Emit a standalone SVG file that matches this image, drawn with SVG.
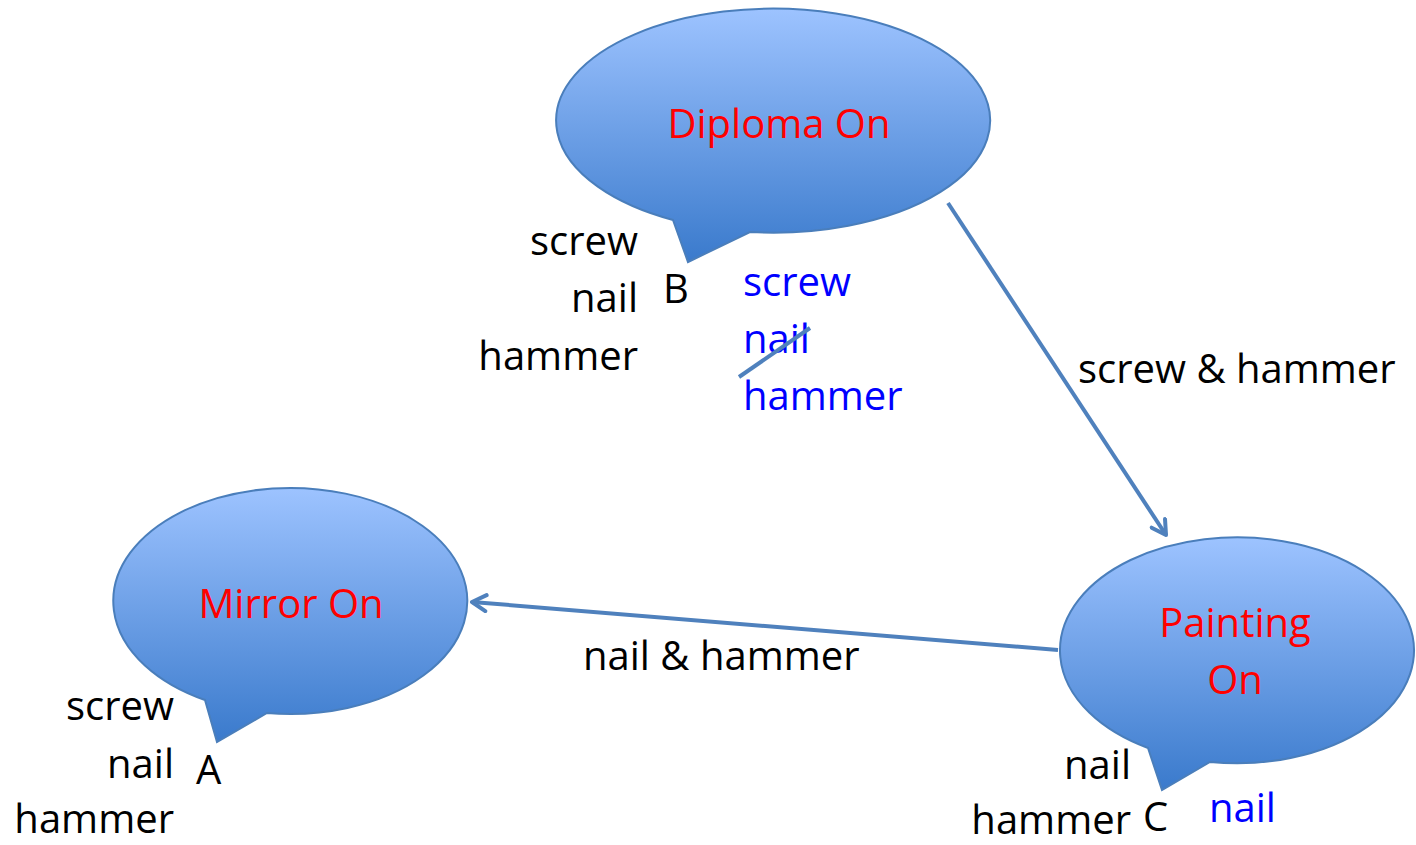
<svg xmlns="http://www.w3.org/2000/svg" width="1416" height="845" viewBox="0 0 1416 845">
<style>
.t{font-family:"Open Sans","Liberation Sans",sans-serif;font-size:40px;fill:#000}
.r{fill:#ff0000}
.b{fill:#0000ff}
.e{text-anchor:end}
.m{text-anchor:middle}
.bub{fill:url(#g);stroke:#4a7ebb;stroke-width:2}
.con{stroke:#4f81bd;stroke-width:4;fill:none}
</style>
<defs>
<linearGradient id="g" x1="0" y1="0" x2="0" y2="1">
<stop offset="0" stop-color="#9dc3ff"/>
<stop offset="1" stop-color="#3a7acc"/>
</linearGradient>
<marker id="arr" viewBox="0 0 20 20" refX="17" refY="10" markerWidth="5" markerHeight="5" orient="auto" markerUnits="strokeWidth">
<polyline points="3,2 17,10 3,18" fill="none" stroke="#4f81bd" stroke-width="4" stroke-linecap="round" stroke-linejoin="round"/>
</marker>
</defs>
<g id="connectors">
<line class="con" x1="948" y1="203" x2="1166" y2="535" marker-end="url(#arr)"/>
<line class="con" x1="1058" y1="650" x2="472" y2="602" marker-end="url(#arr)"/>
<text class="t" x="1078" y="383">screw &amp; hammer</text>
<text class="t" x="583" y="670">nail &amp; hammer</text>
</g>
<g id="diploma">
<path class="bub" d="M673,220 L688,262 L750,232 A217,112 0 1 0 673,220 Z"/>
<text class="t r m" x="779" y="138">Diploma On</text>
<text class="t e" x="638" y="255">screw</text>
<text class="t e" x="638" y="312">nail</text>
<text class="t e" x="638" y="370">hammer</text>
<text class="t" x="663" y="303">B</text>
<text class="t b" x="743" y="296">screw</text>
<text class="t b" x="743" y="353">nail</text>
<text class="t b" x="743" y="410">hammer</text>
<line x1="739" y1="377" x2="810" y2="328" stroke="#4f81bd" stroke-width="4"/>
</g>
<g id="mirror">
<path class="bub" d="M205,700 L217,742 L267,713 A177,113 0 1 0 205,700 Z"/>
<text class="t r m" x="291" y="618">Mirror On</text>
<text class="t e" x="174" y="720">screw</text>
<text class="t e" x="174" y="778">nail</text>
<text class="t e" x="174" y="833">hammer</text>
<text class="t" x="196" y="784">A</text>
</g>
<g id="painting">
<path class="bub" d="M1148,748 L1162,790 L1210,762 A177,113 0 1 0 1148,748 Z"/>
<text class="t r m" x="1235" y="637">Painting</text>
<text class="t r m" x="1235" y="694">On</text>
<text class="t e" x="1131" y="779">nail</text>
<text class="t e" x="1131" y="834">hammer</text>
<text class="t" x="1143" y="831">C</text>
<text class="t b" x="1209" y="822">nail</text>
</g>
</svg>
